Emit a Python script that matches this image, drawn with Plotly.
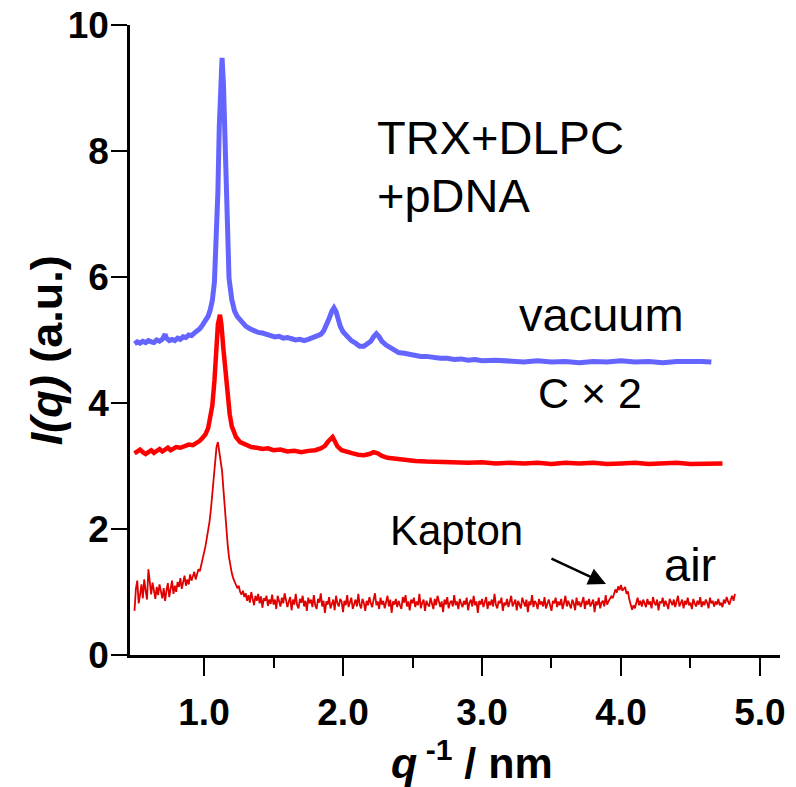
import numpy as np
import plotly.graph_objects as go

# ---- scattering profiles, I(q) in arbitrary units ----
# sample in vacuum
vac_q = [0.50, 0.52, 0.54, 0.56, 0.58, 0.60, 0.62, 0.64, 0.66, 0.68, 0.70, 0.71, 0.72, 0.73,
         0.75, 0.77, 0.79, 0.81, 0.83, 0.85, 0.87, 0.89, 0.91, 0.93, 0.95, 0.97, 0.99, 1.01,
         1.03, 1.045, 1.06, 1.075, 1.09, 1.10, 1.11, 1.12, 1.13, 1.14, 1.15, 1.16, 1.17, 1.18,
         1.20, 1.22, 1.24, 1.27, 1.30, 1.33, 1.36, 1.39, 1.42, 1.45, 1.48, 1.51, 1.54, 1.57,
         1.60, 1.63, 1.66, 1.69, 1.72, 1.75, 1.78, 1.81, 1.84, 1.86, 1.88, 1.90, 1.92, 1.935,
         1.95, 1.965, 1.98, 2.00, 2.03, 2.06, 2.09, 2.12, 2.15, 2.18, 2.20, 2.22, 2.24, 2.26,
         2.28, 2.31, 2.34, 2.37, 2.40, 2.44, 2.48, 2.52, 2.56, 2.60, 2.65, 2.70, 2.75, 2.80,
         2.85, 2.90, 2.95, 3.00, 3.10, 3.20, 3.30, 3.40, 3.50, 3.60, 3.70, 3.80, 3.90, 4.00,
         4.10, 4.20, 4.30, 4.40, 4.50, 4.58, 4.65]
vac_i = [4.94, 4.97, 4.95, 4.98, 4.96, 4.99, 4.97, 4.96, 5.00, 4.98, 5.01, 5.06, 5.09, 5.03,
         4.99, 5.01, 4.99, 5.03, 5.01, 5.05, 5.04, 5.08, 5.07, 5.11, 5.14, 5.18, 5.24, 5.30,
         5.38, 5.48, 5.63, 5.92, 6.55, 7.35, 8.40, 9.25, 9.48, 9.05, 8.10, 7.05, 6.35, 5.98,
         5.64, 5.46, 5.37, 5.28, 5.22, 5.18, 5.14, 5.12, 5.11, 5.08, 5.07, 5.05, 5.06, 5.03,
         5.04, 5.02, 5.00, 5.01, 4.99, 5.01, 5.03, 5.05, 5.09, 5.14, 5.22, 5.34, 5.46, 5.51,
         5.45, 5.33, 5.22, 5.13, 5.05, 4.99, 4.95, 4.90, 4.90, 4.94, 4.98, 5.05, 5.10, 5.05,
         4.98, 4.92, 4.88, 4.84, 4.80, 4.79, 4.77, 4.76, 4.74, 4.74, 4.72, 4.71, 4.71, 4.69,
         4.70, 4.68, 4.69, 4.67, 4.68, 4.66, 4.65, 4.67, 4.65, 4.66, 4.64, 4.66, 4.65, 4.67,
         4.65, 4.66, 4.64, 4.66, 4.67, 4.66, 4.65]

# same sample, intensity scaled x2
c2_q = [0.50, 0.52, 0.54, 0.56, 0.58, 0.60, 0.62, 0.64, 0.66, 0.68, 0.70, 0.72, 0.74, 0.76,
        0.78, 0.80, 0.83, 0.86, 0.89, 0.92, 0.95, 0.97, 0.99, 1.01, 1.03, 1.045, 1.06, 1.075,
        1.09, 1.10, 1.115, 1.125, 1.14, 1.155, 1.17, 1.185, 1.20, 1.23, 1.26, 1.30, 1.34,
        1.38, 1.42, 1.46, 1.50, 1.55, 1.60, 1.65, 1.70, 1.75, 1.80, 1.84, 1.87, 1.89, 1.91,
        1.925, 1.94, 1.96, 1.99, 2.03, 2.07, 2.11, 2.15, 2.19, 2.22, 2.25, 2.28, 2.32, 2.38,
        2.45, 2.52, 2.60, 2.70, 2.80, 2.90, 3.00, 3.10, 3.20, 3.30, 3.40, 3.50, 3.60, 3.70,
        3.80, 3.90, 4.00, 4.10, 4.20, 4.30, 4.40, 4.50, 4.60, 4.73]
c2_i = [3.20, 3.23, 3.26, 3.22, 3.19, 3.22, 3.25, 3.21, 3.24, 3.27, 3.23, 3.26, 3.29, 3.25,
        3.28, 3.30, 3.29, 3.32, 3.34, 3.33, 3.37, 3.40, 3.45, 3.50, 3.60, 3.75, 3.96, 4.35,
        4.90, 5.25, 5.40, 5.25, 4.85, 4.50, 4.12, 3.82, 3.63, 3.46, 3.38, 3.33, 3.30,
        3.29, 3.27, 3.28, 3.25, 3.26, 3.23, 3.24, 3.22, 3.24, 3.25, 3.28, 3.32, 3.38, 3.44,
        3.46, 3.40, 3.31, 3.25, 3.22, 3.20, 3.18, 3.17, 3.19, 3.22, 3.20, 3.16, 3.13, 3.11,
        3.09, 3.08, 3.07, 3.06, 3.06, 3.05, 3.06, 3.04, 3.05, 3.04, 3.05, 3.03, 3.05, 3.04,
        3.05, 3.03, 3.04, 3.05, 3.03, 3.04, 3.05, 3.03, 3.04, 3.04]

# sample in air, detector channels 0.50 ... 4.82 nm^-1 (step 0.01)
air_i = [
    0.70, 1.05, 1.18, 0.82, 0.95, 1.12, 0.90, 1.20, 1.02, 0.88,
    1.36, 1.10, 0.96, 1.15, 1.04, 0.89, 1.08, 0.95, 1.12, 0.98,
    0.90, 1.06, 0.86, 1.02, 1.14, 0.92, 1.05, 1.18, 0.97, 1.10,
    1.00, 1.16, 1.08, 1.22, 1.05, 1.14, 1.26, 1.10, 1.20, 1.12,
    1.28, 1.18, 1.24, 1.32, 1.20, 1.30, 1.36, 1.33, 1.42, 1.50,
    1.62, 1.72, 1.85, 1.98, 2.12, 2.32, 2.55, 2.82, 3.08, 3.30,
    3.38, 3.24, 3.12, 2.92, 2.62, 2.28, 2.00, 1.76, 1.55, 1.40,
    1.30, 1.22, 1.17, 1.12, 1.06, 1.10, 1.00, 0.96, 1.02, 0.92,
    0.98, 0.86, 0.95, 0.83, 1.00, 0.89, 0.79, 0.94, 0.86, 0.97,
    0.82, 0.93, 0.75, 0.90, 0.86, 0.94, 0.78, 0.88, 0.81, 0.96,
    0.80, 0.88, 0.73, 0.94, 0.85, 0.77, 0.91, 0.82, 0.98, 0.86,
    0.76, 0.85, 0.92, 0.71, 0.88, 0.80, 0.97, 0.79, 0.74, 0.89,
    0.83, 0.94, 0.77, 0.86, 0.70, 0.91, 0.82, 0.88, 0.76, 0.95,
    0.79, 0.73, 0.89, 0.83, 0.98, 0.77, 0.86, 0.67, 0.85, 0.80,
    0.92, 0.74, 0.83, 0.88, 0.71, 0.94, 0.82, 0.77, 0.89, 0.85,
    0.68, 0.86, 0.79, 0.95, 0.76, 0.85, 0.91, 0.73, 0.82, 0.88,
    0.77, 0.97, 0.80, 0.74, 0.89, 0.83, 0.70, 0.86, 0.79, 0.92,
    0.82, 0.76, 0.88, 0.98, 0.79, 0.85, 0.73, 0.91, 0.80, 0.86,
    0.74, 0.83, 0.94, 0.77, 0.88, 0.67, 0.85, 0.80, 0.89, 0.76,
    0.86, 0.79, 0.73, 0.92, 0.83, 0.95, 0.77, 0.85, 0.71, 0.88,
    0.82, 0.91, 0.76, 0.85, 0.79, 0.97, 0.74, 0.83, 0.88, 0.70,
    0.86, 0.80, 0.77, 0.91, 0.83, 0.73, 0.89, 0.79, 0.94, 0.82,
    0.76, 0.85, 0.68, 0.88, 0.80, 0.92, 0.74, 0.83, 0.86, 0.77,
    0.95, 0.79, 0.85, 0.73, 0.89, 0.82, 0.76, 0.86, 0.80, 0.91,
    0.71, 0.83, 0.88, 0.77, 0.94, 0.79, 0.85, 0.67, 0.86, 0.80,
    0.89, 0.76, 0.83, 0.92, 0.73, 0.85, 0.79, 0.88, 0.77, 0.97,
    0.80, 0.74, 0.86, 0.82, 0.91, 0.70, 0.83, 0.79, 0.89, 0.76,
    0.85, 0.94, 0.77, 0.82, 0.88, 0.71, 0.86, 0.80, 0.74, 0.91,
    0.83, 0.77, 0.88, 0.68, 0.85, 0.79, 0.95, 0.76, 0.86, 0.82,
    0.73, 0.89, 0.80, 0.85, 0.77, 0.92, 0.74, 0.83, 0.88, 0.79,
    0.70, 0.86, 0.82, 0.91, 0.76, 0.85, 0.79, 0.89, 0.73, 0.83,
    0.94, 0.77, 0.86, 0.80, 0.74, 0.88, 0.82, 0.71, 0.91, 0.79,
    0.85, 0.76, 0.83, 0.92, 0.73, 0.86, 0.80, 0.89, 0.77, 0.82,
    0.88, 0.68, 0.85, 0.79, 0.91, 0.74, 0.83, 0.86, 0.77, 0.95,
    0.80, 0.85, 0.88, 0.93, 0.90, 0.98, 1.04, 0.99, 1.09, 1.03,
    1.11, 1.02, 1.06, 1.08, 0.97, 1.01, 0.88, 0.80, 0.72, 0.79,
    0.74, 0.83, 0.91, 0.79, 0.86, 0.77, 0.88, 0.82, 0.76, 0.89,
    0.80, 0.85, 0.74, 0.92, 0.83, 0.79, 0.88, 0.71, 0.85, 0.82,
    0.91, 0.77, 0.86, 0.80, 0.73, 0.89, 0.83, 0.79, 0.88, 0.76,
    0.85, 0.94, 0.77, 0.82, 0.88, 0.74, 0.86, 0.80, 0.91, 0.79,
    0.83, 0.73, 0.89, 0.82, 0.77, 0.86, 0.80, 0.92, 0.76, 0.85,
    0.79, 0.88, 0.83, 0.74, 0.91, 0.82, 0.86, 0.77, 0.85, 0.80,
    0.89, 0.79, 0.83, 0.76, 0.88, 0.82, 0.92, 0.85, 0.80, 0.88,
    0.94, 0.86, 0.97,
]
air_q = np.round(np.linspace(0.50, 4.82, len(air_i)), 3)

x_ticks = [1.0, 2.0, 3.0, 4.0, 5.0]
x_minor = [1.5, 2.5, 3.5, 4.5]
y_ticks = [0, 2, 4, 6, 8, 10]

FONT = "Arial, Liberation Sans, sans-serif"

fig = go.Figure()
fig.add_trace(go.Scatter(x=air_q, y=air_i, mode="lines",
                         line=dict(color="#e00000", width=1.8)))
fig.add_trace(go.Scatter(x=c2_q, y=c2_i, mode="lines",
                         line=dict(color="#ff0000", width=4.5)))
fig.add_trace(go.Scatter(x=vac_q, y=vac_i, mode="lines",
                         line=dict(color="#6464ff", width=5)))

fig.update_layout(
    width=796, height=787,
    margin=dict(l=130, r=16, t=25, b=132),
    paper_bgcolor="white", plot_bgcolor="white",
    showlegend=False,
    font=dict(family=FONT, color="black"),
    xaxis=dict(
        range=[0.4676, 5.144], showgrid=False, zeroline=False, automargin=False,
        showline=True, linecolor="black", linewidth=2.5,
        tickmode="array", tickvals=x_ticks,
        ticktext=[f"{v:.1f}" for v in x_ticks],
        ticks="outside", ticklen=18, tickwidth=2, tickcolor="black",
        tickfont=dict(family=FONT, size=37, weight="bold", color="black"),
        ticklabelstandoff=5,
        minor=dict(tickmode="array", tickvals=x_minor, ticks="outside",
                   ticklen=10, tickwidth=2, tickcolor="black", showgrid=False),
    ),
    yaxis=dict(
        range=[0, 10], showgrid=False, zeroline=False, automargin=False,
        showline=True, linecolor="black", linewidth=2.5,
        tickmode="array", tickvals=y_ticks,
        ticktext=[str(v) for v in y_ticks],
        ticks="outside", ticklen=16, tickwidth=2, tickcolor="black",
        tickfont=dict(family=FONT, size=37, weight="bold", color="black"),
        ticklabelstandoff=-5,
    ),
)

# axis titles
fig.add_annotation(text="<b><i>I(q)</i> (a.u.)</b>", xref="paper", yref="paper",
                   x=-0.129, y=0.484, xanchor="center", yanchor="middle",
                   textangle=-90, showarrow=False,
                   font=dict(family=FONT, size=45, color="black"))
fig.add_annotation(text="<b><i>q</i><sup> -1</sup> / nm</b>", xref="paper", yref="paper",
                   x=0.526, y=-0.167, xanchor="center", yanchor="middle",
                   showarrow=False,
                   font=dict(family=FONT, size=43, color="black"))

# sample and condition labels
labels = [
    ("TRX+DLPC", 2.23, 8.22, "left", 47),
    ("+pDNA", 2.23, 7.30, "left", 47),
    ("vacuum", 3.863, 5.41, "center", 47),
    ("C × 2", 3.777, 4.16, "center", 43),
    ("Kapton", 2.82, 1.97, "center", 42),
    ("air", 4.50, 1.44, "center", 47),
]
for text, x, y, anchor, size in labels:
    fig.add_annotation(text=text, x=x, y=y, xanchor=anchor, yanchor="middle",
                       showarrow=False, font=dict(family=FONT, size=size, color="black"))

# arrow pointing at the Kapton window reflection
fig.add_annotation(x=3.892, y=1.127, ax=3.489, ay=1.54, xref="x", yref="y",
                   axref="x", ayref="y", text="", showarrow=True,
                   arrowhead=2, arrowsize=1.4, arrowwidth=2.5, arrowcolor="black")

fig.write_html("out.html")
